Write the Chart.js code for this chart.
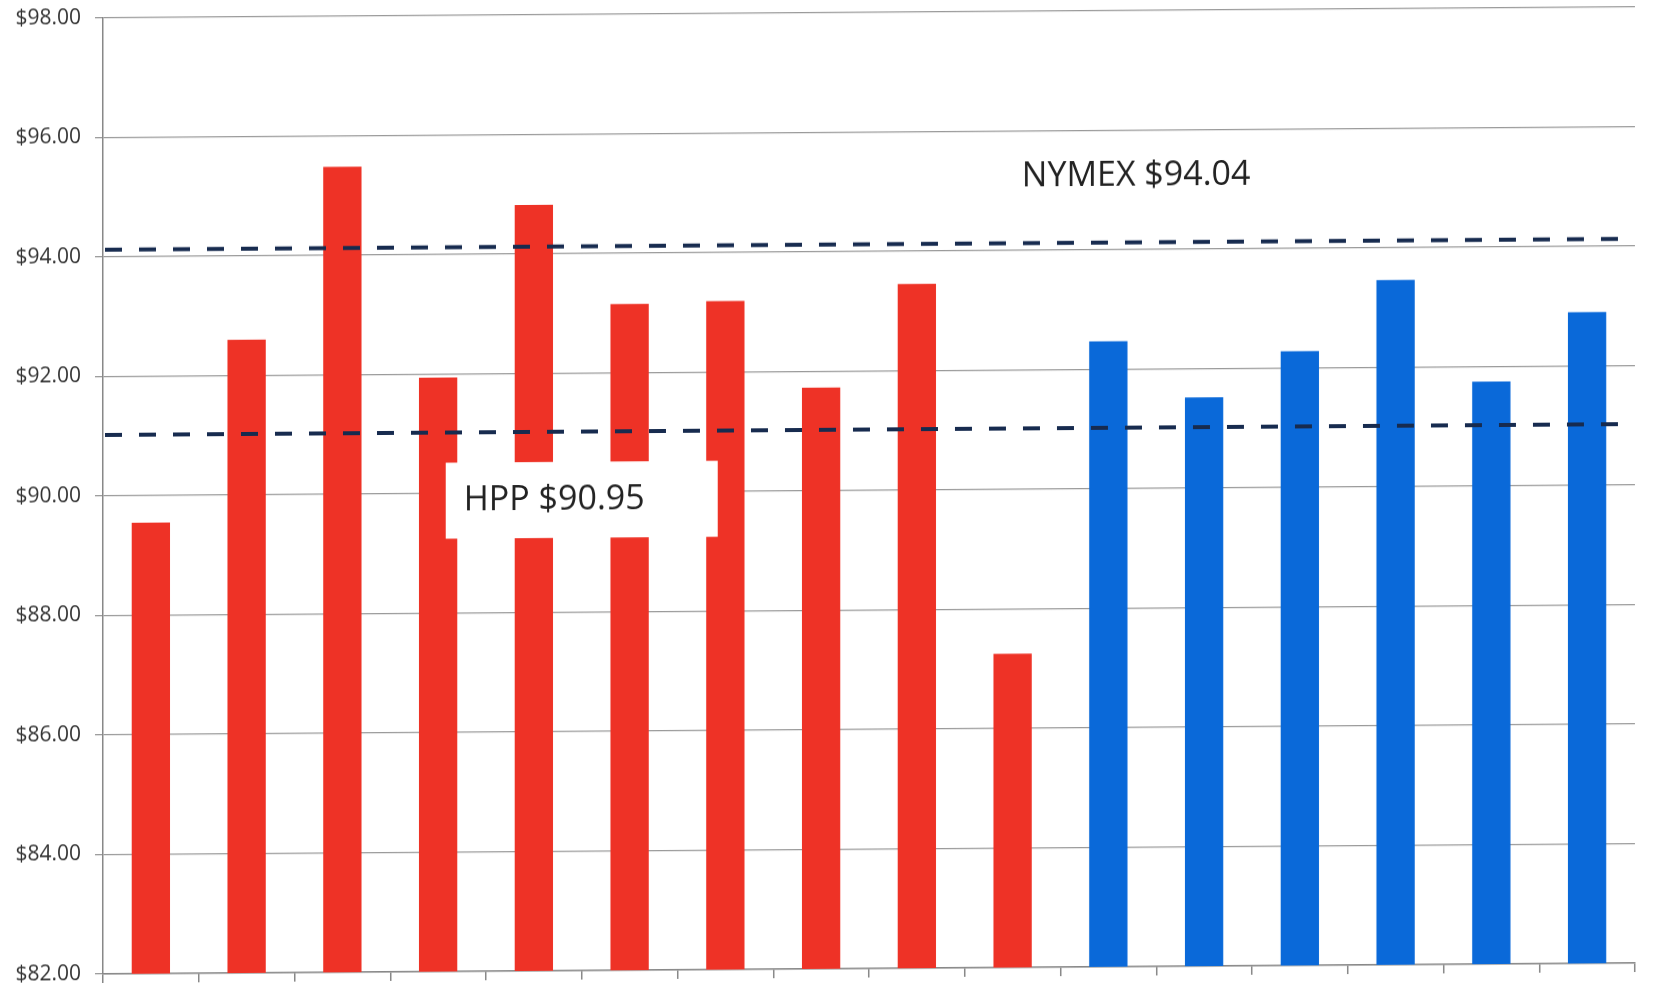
<!DOCTYPE html>
<html>
<head>
<meta charset="utf-8">
<title>Price comparison</title>
<script src="https://cdn.jsdelivr.net/npm/chart.js@4.4.1/dist/chart.umd.min.js"></script>
<style>
  html, body { margin: 0; padding: 0; background: #fff; }
  /* the original is a slightly skewed scan, so tilt the canvas a little */
  #grafico { display: block; transform: skewY(-0.41deg); transform-origin: 103px 0; }
</style>
</head>
<body>
<canvas id="grafico" width="1659" height="988"></canvas>
<script>
const categories = ['1', '2', '3', '4', '5', '6', '7', '8', '9', '10', '11', '12', '13', '14', '15', '16'];
const redValues = [89.55, 92.60, 95.48, 91.94, 94.82, 93.15, 93.19, 91.73, 93.45, 87.25];
const blueValues = [92.47, 91.52, 92.28, 93.46, 91.75, 92.90];
const yTicks = [82, 84, 86, 88, 90, 92, 94, 96, 98];

// reference lines and their labels
const nymexValue = 94.12;
const hppValue = 91.02;
const nymexLabel = 'NYMEX $94.04';
const hppLabel = 'HPP $90.95';

const rojo = '#EE3226';
const azul = '#0A69D9';
const lineaColor = '#172B4F';

const valores = redValues.concat(blueValues);
const colores = valores.map(function (v, i) { return i < redValues.length ? rojo : azul; });

const lineasPlugin = {
    id: 'lineasReferencia',
    afterDatasetsDraw: function (chart) {
        const ctx = chart.ctx;
        const area = chart.chartArea;
        const x = chart.scales.x;
        const y = chart.scales.y;

        ctx.save();
        ctx.strokeStyle = lineaColor;
        ctx.lineWidth = 4;
        ctx.setLineDash([17, 17]);
        [nymexValue, hppValue].forEach(function (v) {
            const py = y.getPixelForValue(v);
            ctx.beginPath();
            ctx.moveTo(area.left + 2, py);
            ctx.lineTo(area.right, py);
            ctx.stroke();
        });
        ctx.setLineDash([]);

        ctx.font = '34px "Open Sans"';
        ctx.textBaseline = 'middle';

        // HPP label sits in a white box over the bars
        const bx = x.getPixelForValue(4.5);
        const by = y.getPixelForValue(89.88);
        ctx.fillStyle = '#fff';
        ctx.fillRect(bx - 136, by - 38, 272, 76);
        ctx.fillStyle = '#222';
        ctx.textAlign = 'left';
        ctx.fillText(hppLabel, bx - 118, by);

        ctx.textAlign = 'center';
        ctx.fillText(nymexLabel, x.getPixelForValue(10.29), y.getPixelForValue(95.23));
        ctx.restore();
    }
};

const ctx = document.getElementById('grafico').getContext('2d');
const grafico = new Chart(ctx, {
    type: 'bar',
    data: {
        labels: categories,
        datasets: [{
            label: 'Precio',
            data: valores,
            backgroundColor: colores,
            borderWidth: 0,
            barPercentage: 0.4,
            categoryPercentage: 1
        }]
    },
    options: {
        responsive: false,
        animation: false,
        layout: { padding: { top: 18, right: 24, left: 0, bottom: 0 } },
        plugins: {
            legend: { display: false },
            tooltip: { enabled: false }
        },
        scales: {
            x: {
                grid: { display: true, offset: true, drawOnChartArea: false, drawTicks: true, tickLength: 9, color: '#888', lineWidth: 1.5 },
                border: { color: '#888', width: 1.5 },
                ticks: { display: false },
                afterFit: function (s) {
                    s.height = 14;
                    s.paddingLeft = 0;
                    s.paddingRight = 0;
                }
            },
            y: {
                min: 82,
                max: 98,
                afterBuildTicks: function (s) { s.ticks = yTicks.map(function (v) { return { value: v }; }); },
                grid: { color: '#9a9a9a', lineWidth: 1.3, tickLength: 8 },
                border: { color: '#888', width: 1.5 },
                ticks: {
                    padding: 14,
                    color: '#333',
                    font: { family: 'Open Sans', size: 21 },
                    callback: function (v) { return '$' + Number(v).toFixed(2); }
                },
                afterFit: function (s) {
                    s.width = 103;
                    s.paddingTop = 0;
                    s.paddingBottom = 0;
                }
            }
        }
    },
    plugins: [lineasPlugin]
});
</script>
</body>
</html>
